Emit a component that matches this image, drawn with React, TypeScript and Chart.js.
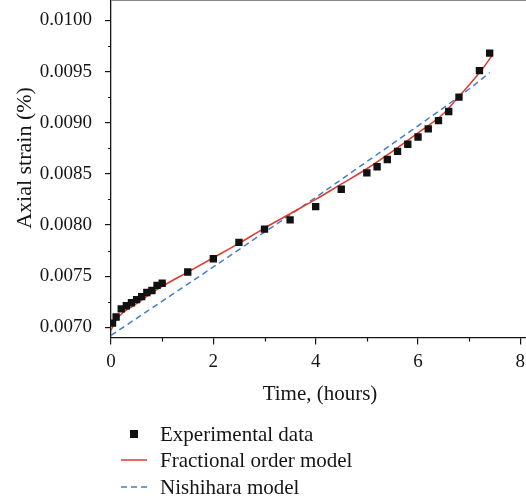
import { useEffect, useRef } from 'react';
import { Chart, registerables } from 'chart.js';

Chart.register(...registerables);

// Measured creep data
const expHours = [0.03, 0.1, 0.2, 0.3, 0.4, 0.5, 0.6, 0.7, 0.8, 0.9, 1.0, 1.5, 2.0, 2.5, 3.0, 3.5, 4.0, 4.5, 5.0, 5.2, 5.4, 5.6, 5.8, 6.0, 6.2, 6.4, 6.6, 6.8, 7.2, 7.4];
const expStrain = [0.00704, 0.0071, 0.00718, 0.00721, 0.00724, 0.00727, 0.0073, 0.00734, 0.00736, 0.00741, 0.00743, 0.00754, 0.00767, 0.00783, 0.00796, 0.00805, 0.00818, 0.00835, 0.00851, 0.00857, 0.00864, 0.00872, 0.00879, 0.00886, 0.00894, 0.00902, 0.00911, 0.00925, 0.00951, 0.00968];

// Fractional order model curve
const fracHours = [0, 0.1, 0.25, 0.5, 0.75, 1.0, 1.5, 2.0, 2.5, 3.0, 3.5, 4.0, 4.5, 5.0, 5.5, 6.0, 6.5, 6.75, 7.0, 7.25, 7.45];
const fracStrain = [0.00697, 0.00707, 0.00715, 0.00723, 0.00732, 0.0074, 0.00754, 0.00768, 0.00782, 0.00797, 0.00811, 0.00825, 0.0084, 0.00855, 0.00872, 0.0089, 0.00909, 0.00923, 0.00937, 0.00952, 0.00966];

// Nishihara model curve
const nishHours = [0, 1, 2, 3, 4, 5, 6, 7, 7.4];
const nishStrain = [0.00692, 0.007255, 0.00759, 0.00793, 0.00827, 0.00862, 0.00897, 0.00933, 0.00949];

const xMajor = [0, 2, 4, 6, 8];
const xMinor = [1, 3, 5, 7];
const yMajor = [0.007, 0.0075, 0.008, 0.0085, 0.009, 0.0095, 0.01];
const yMinor = [0.00725, 0.00775, 0.00825, 0.00875, 0.00925, 0.00975];

const xTitle = 'Time, (hours)';
const yTitle = 'Axial strain (%)';
const seriesNames = ['Experimental data', 'Fractional order model', 'Nishihara model'];

const SERIF = '"Liberation Serif", "Times New Roman", serif';
const INK = '#151515';
const RED = '#e2392c';
const BLUE = '#3f7fcb';

const decorations = {
  id: 'decorations',
  afterDraw(chart: any) {
    const { ctx, chartArea, scales } = chart;
    const xs = scales.x;
    const ys = scales.y;
    ctx.save();

    // thin frame line along the top
    ctx.strokeStyle = '#8a8a8a';
    ctx.lineWidth = 1;
    ctx.beginPath();
    ctx.moveTo(chartArea.left, 0.5);
    ctx.lineTo(chartArea.right, 0.5);
    ctx.stroke();

    // minor ticks
    ctx.strokeStyle = INK;
    ctx.lineWidth = 1.2;
    ctx.beginPath();
    xMinor.forEach((v) => {
      const px = Math.round(xs.getPixelForValue(v)) + 0.5;
      ctx.moveTo(px, chartArea.bottom);
      ctx.lineTo(px, chartArea.bottom + 4);
    });
    yMinor.forEach((v) => {
      const py = Math.round(ys.getPixelForValue(v)) + 0.5;
      ctx.moveTo(chartArea.left - 3, py);
      ctx.lineTo(chartArea.left, py);
    });
    ctx.stroke();

    // axis titles
    ctx.fillStyle = INK;
    ctx.font = `21px ${SERIF}`;
    ctx.textAlign = 'center';
    ctx.textBaseline = 'middle';
    ctx.fillText(xTitle, 320, 394);
    ctx.save();
    ctx.translate(25, 158);
    ctx.rotate(-Math.PI / 2);
    ctx.font = `22px ${SERIF}`;
    ctx.fillText(yTitle, 0, 0);
    ctx.restore();

    // legend
    const rows = [434, 460, 487];
    ctx.fillStyle = '#111';
    ctx.fillRect(130, rows[0] - 4, 8, 8);

    ctx.lineWidth = 1.5;
    ctx.strokeStyle = RED;
    ctx.beginPath();
    ctx.moveTo(121, rows[1]);
    ctx.lineTo(147, rows[1]);
    ctx.stroke();

    ctx.strokeStyle = BLUE;
    ctx.setLineDash([6, 4]);
    ctx.beginPath();
    ctx.moveTo(121, rows[2]);
    ctx.lineTo(147, rows[2]);
    ctx.stroke();
    ctx.setLineDash([]);

    ctx.fillStyle = INK;
    ctx.textAlign = 'left';
    ctx.textBaseline = 'alphabetic';
    ctx.font = `21px ${SERIF}`;
    seriesNames.forEach((name, i) => {
      ctx.fillText(name, 160, rows[i] + 7);
    });

    ctx.restore();
  },
};

export default function App() {
  const canvasRef = useRef<HTMLCanvasElement | null>(null);

  useEffect(() => {
    const canvas = canvasRef.current;
    if (!canvas) return;
    Chart.defaults.font.family = SERIF;

    const chart = new Chart(canvas, {
      type: 'scatter',
      data: {
        datasets: [
          {
            label: seriesNames[0],
            data: expHours.map((t, i) => ({ x: t, y: expStrain[i] })),
            pointStyle: 'rect',
            pointRadius: 5.2,
            pointBackgroundColor: '#111',
            pointBorderColor: '#111',
            pointBorderWidth: 0,
            showLine: false,
            order: 0,
          },
          {
            label: seriesNames[1],
            data: fracHours.map((t, i) => ({ x: t, y: fracStrain[i] })),
            showLine: true,
            borderColor: RED,
            borderWidth: 1.5,
            pointRadius: 0,
            cubicInterpolationMode: 'monotone',
            order: 1,
          },
          {
            label: seriesNames[2],
            data: nishHours.map((t, i) => ({ x: t, y: nishStrain[i] })),
            showLine: true,
            borderColor: BLUE,
            borderWidth: 1.5,
            borderDash: [6, 4],
            pointRadius: 0,
            cubicInterpolationMode: 'monotone',
            order: 2,
          },
        ],
      },
      options: {
        responsive: false,
        animation: false,
        devicePixelRatio: 1,
        layout: { padding: 0, autoPadding: false },
        plugins: {
          legend: { display: false },
          tooltip: { enabled: false },
        },
        scales: {
          x: {
            type: 'linear',
            min: 0,
            max: 8.11,
            afterBuildTicks: (scale: any) => {
              scale.ticks = xMajor.map((v) => ({ value: v }));
            },
            afterFit: (scale: any) => {
              scale.height = 164.5;
              scale.paddingLeft = 0;
              scale.paddingRight = 0;
            },
            border: { display: true, color: INK, width: 1.3 },
            grid: { display: true, drawOnChartArea: false, drawTicks: true, tickLength: 7, color: INK, lineWidth: 1.2 },
            ticks: {
              color: INK,
              font: { size: 19, family: SERIF },
              padding: 6,
              maxRotation: 0,
              callback: (v: any) => String(v),
            },
          },
          y: {
            type: 'linear',
            min: 0.0069,
            max: 0.0102,
            afterBuildTicks: (scale: any) => {
              scale.ticks = yMajor.map((v) => ({ value: v }));
            },
            afterFit: (scale: any) => {
              scale.width = 111;
              scale.paddingTop = 0;
              scale.paddingBottom = 0;
            },
            border: { display: true, color: INK, width: 1.3 },
            grid: { display: true, drawOnChartArea: false, drawTicks: true, tickLength: 6, color: INK, lineWidth: 1.2 },
            ticks: {
              color: INK,
              font: { size: 19, family: SERIF },
              padding: 13,
              callback: (v: any) => Number(v).toFixed(4),
            },
          },
        },
      },
      plugins: [decorations],
    });

    return () => chart.destroy();
  }, []);

  return (
    <div style={{ position: 'absolute', left: 0, top: 0, width: 526, height: 502, background: '#fff' }}>
      <canvas ref={canvasRef} width={526} height={502} style={{ display: 'block' }} />
    </div>
  );
}
